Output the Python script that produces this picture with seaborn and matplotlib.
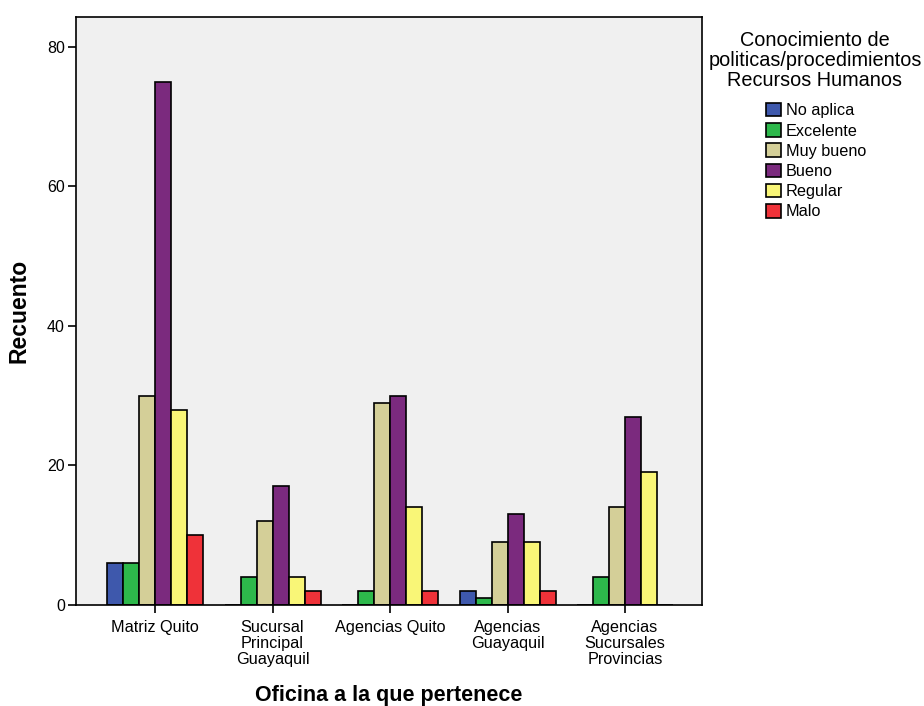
import matplotlib
matplotlib.use("Agg")
import matplotlib.pyplot as plt
import seaborn as sns
import pandas as pd

# Survey counts: knowledge of HR policies/procedures by office
oficinas = [
    "Matriz Quito",
    "Sucursal\nPrincipal\nGuayaquil",
    "Agencias Quito",
    "Agencias\nGuayaquil",
    "Agencias\nSucursales\nProvincias",
]
niveles = ["No aplica", "Excelente", "Muy bueno", "Bueno", "Regular", "Malo"]

no_aplica = [6, 0, 0, 2, 0]
excelente = [6, 4, 2, 1, 4]
muy_bueno = [30, 12, 29, 9, 14]
bueno = [75, 17, 30, 13, 27]
regular = [28, 4, 14, 9, 19]
malo = [10, 2, 2, 2, 0]

colores = ["#3E58AC", "#2DB84B", "#D4CF98", "#7B2A7E", "#F9F677", "#EF3239"]

series = [no_aplica, excelente, muy_bueno, bueno, regular, malo]
rows = []
for nivel, vals in zip(niveles, series):
    for oficina, v in zip(oficinas, vals):
        rows.append({"Oficina": oficina, "Nivel": nivel, "Recuento": v})
df = pd.DataFrame(rows)

sns.set_theme(style="ticks")
plt.rcParams["font.family"] = ["Liberation Sans", "DejaVu Sans"]
plt.rcParams["text.color"] = "black"
plt.rcParams["axes.labelcolor"] = "black"

fig = plt.figure(figsize=(9.24, 7.06), dpi=100)
ax = fig.add_axes([0.0823, 0.1431, 0.6774, 0.8328])
ax.set_facecolor("#F0F0F0")

sns.barplot(
    data=df, x="Oficina", y="Recuento", hue="Nivel",
    order=oficinas, hue_order=niveles, palette=colores,
    width=0.817, edgecolor="black", linewidth=1.2,
    saturation=1, errorbar=None, ax=ax, legend=True,
)

ax.set_xlim(-0.672, 4.655)
ax.set_ylim(0, 84.3)
ax.set_yticks([0, 20, 40, 60, 80])
for s in ax.spines.values():
    s.set_color("black")
    s.set_linewidth(1.2)
ax.tick_params(axis="both", direction="out", length=6, width=1.2,
               color="black", labelcolor="black")
ax.tick_params(axis="x", pad=5, labelsize=11.7)
ax.tick_params(axis="y", pad=2, labelsize=11.5)
ax.set_xticks(range(len(oficinas)))
ax.set_xticklabels(oficinas, linespacing=1.07)

ax.set_xlabel("Oficina a la que pertenece", fontsize=15.5,
              fontweight="bold", labelpad=13, color="black")
ax.set_ylabel("Recuento", fontsize=16.5, fontweight="bold",
              labelpad=12, color="black")

handles, labels = ax.get_legend_handles_labels()
ax.get_legend().remove()

# Legend title drawn as its own centred text block
fig.text(0.882, 1 - 31 / 706,
         "Conocimiento de\npoliticas/procedimientos\nRecursos Humanos",
         ha="center", va="top", fontsize=14.3, linespacing=1.06,
         multialignment="center", color="black")

leg = fig.legend(
    handles, labels,
    loc="upper left", bbox_to_anchor=(766 / 924, 1 - 103 / 706),
    frameon=False, fontsize=11.7,
    handlelength=0.9, handleheight=0.9, handletextpad=0.3,
    labelspacing=0.3, borderpad=0, borderaxespad=0,
)
for t in leg.get_texts():
    t.set_color("black")

fig.savefig("out.png", dpi=100, facecolor="white")
